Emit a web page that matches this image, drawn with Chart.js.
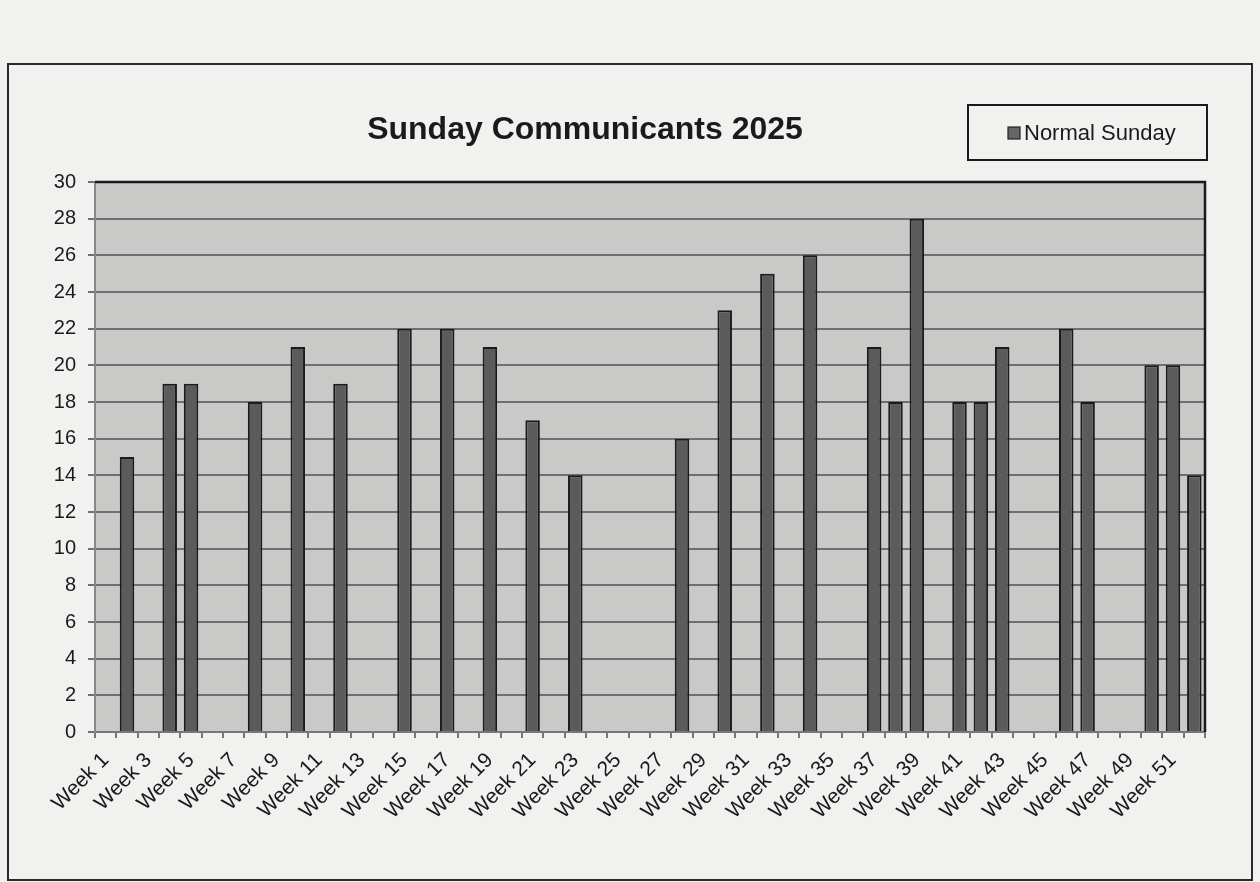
<!DOCTYPE html>
<html>
<head>
<meta charset="utf-8">
<script src="https://cdn.jsdelivr.net/npm/chart.js@4.4.1/dist/chart.umd.min.js"></script>
<style>
  body { margin: 0; background: #f1f1f0; }
  #wrap { width: 1260px; height: 882px; }
</style>
</head>
<body>
<div id="wrap"><canvas id="myChart" width="1260" height="882"></canvas></div>
<script>
// weeks 1..52, blanks are weeks with no reading
var weeks = [];
for (var i = 1; i <= 52; i++) weeks.push('Week ' + i);

var normalSunday = [
  null, 15, null, 19, 19, null, null, 18, null, 21,
  null, 19, null, null, 22, null, 22, null, 21, null,
  17, null, 14, null, null, null, null, 16, null, 23,
  null, 25, null, 26, null, null, 21, 18, 28, null,
  18, 18, 21, null, null, 22, 18, null, null, 20,
  20, 14
];

var yTicks = [0, 2, 4, 6, 8, 10, 12, 14, 16, 18, 20, 22, 24, 26, 28, 30];

var chartTitle = 'Sunday Communicants 2025';
var seriesName = 'Normal Sunday';

var frame = {
  id: 'frame',
  beforeDraw: function (chart) {
    var c = chart.ctx, a = chart.chartArea;
    c.save();
    c.fillStyle = '#f1f1f0';
    c.fillRect(0, 0, chart.width, chart.height);
    c.fillStyle = '#c9c9c8';
    c.fillRect(a.left, a.top, a.right - a.left, a.bottom - a.top);
    c.restore();
  },
  afterDraw: function (chart) {
    var c = chart.ctx, a = chart.chartArea;
    c.save();
    // outer border
    c.strokeStyle = '#2a2a2a';
    c.lineWidth = 2;
    c.strokeRect(8, 64, 1244, 816);
    // plot top + right border
    c.strokeStyle = '#1a1a1a';
    c.lineWidth = 2.5;
    c.beginPath();
    c.moveTo(a.left, a.top);
    c.lineTo(a.right, a.top);
    c.lineTo(a.right, a.bottom);
    c.stroke();
    // title
    c.fillStyle = '#1a1a1a';
    c.font = 'bold 32px "Liberation Sans", Arial, sans-serif';
    c.textAlign = 'center';
    c.textBaseline = 'alphabetic';
    c.fillText(chartTitle, 585, 139);
    // legend
    c.lineWidth = 2;
    c.strokeStyle = '#1a1a1a';
    c.strokeRect(968, 105, 239, 55);
    c.fillStyle = '#666';
    c.fillRect(1008, 127, 12, 12);
    c.strokeStyle = '#222';
    c.lineWidth = 1.2;
    c.strokeRect(1008, 127, 12, 12);
    c.fillStyle = '#1a1a1a';
    c.font = '22px "Liberation Sans", Arial, sans-serif';
    c.textAlign = 'left';
    c.fillText(seriesName, 1024, 140);
    c.restore();
  }
};

var ctx = document.getElementById('myChart').getContext('2d');
var myChart = new Chart(ctx, {
  type: 'bar',
  data: {
    labels: weeks,
    datasets: [{
      label: seriesName,
      data: normalSunday,
      backgroundColor: '#5b5b5b',
      borderColor: '#1b1b1b',
      borderWidth: 2,
      barPercentage: 0.68,
      categoryPercentage: 1.0
    }]
  },
  options: {
    responsive: false,
    animation: false,
    layout: { padding: { top: 182, right: 55, left: 0, bottom: 0 } },
    plugins: {
      legend: { display: false },
      title: { display: false },
      tooltip: { enabled: false }
    },
    scales: {
      x: {
        afterFit: function (s) { s.height = 150; },
        grid: {
          offset: true,
          drawOnChartArea: false,
          drawTicks: true,
          tickLength: 6,
          color: '#777',
          lineWidth: 2
        },
        border: { color: '#777', width: 2 },
        ticks: {
          autoSkip: false,
          maxRotation: 45,
          minRotation: 45,
          padding: 10,
          color: '#1a1a1a',
          font: { family: '"Liberation Sans", Arial, sans-serif', size: 21 },
          callback: function (v, i) { return i % 2 === 0 ? weeks[i] : ''; }
        }
      },
      y: {
        min: yTicks[0],
        max: yTicks[yTicks.length - 1],
        afterFit: function (s) { s.width = 95; },
        afterBuildTicks: function (s) { s.ticks = yTicks.map(function (v) { return { value: v }; }); },
        grid: {
          color: '#6f6f6f',
          lineWidth: 2,
          tickLength: 7
        },
        border: { color: '#888', width: 2 },
        ticks: {
          padding: 12,
          color: '#1a1a1a',
          font: { family: '"Liberation Sans", Arial, sans-serif', size: 20 }
        }
      }
    }
  },
  plugins: [frame]
});
</script>
</body>
</html>
